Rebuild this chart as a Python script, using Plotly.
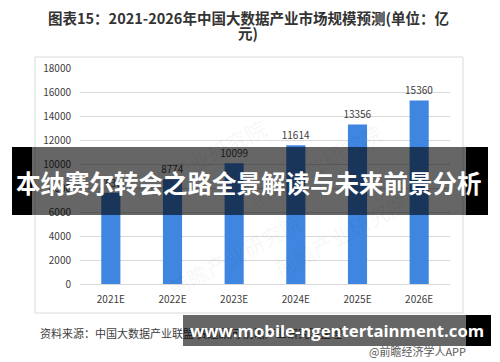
import plotly.graph_objects as go

# the page body has an 8px margin, so the figure is drawn 8px in from the window edge
OFF = 8
W, H = 500 - OFF, 362 - OFF
categories = ["2021E", "2022E", "2023E", "2024E", "2025E", "2026E"]
values = [7630, 8774, 10099, 11614, 13356, 15360]
y_ticks = [0, 2000, 4000, 6000, 8000, 10000, 12000, 14000, 16000, 18000]

title_line1 = "图表15：2021-2026年中国大数据产业市场规模预测(单位：亿"
title_line2 = "元)"
banner_text = "本纳赛尔转会之路全景解读与未来前景分析"
source_text = "资料来源：中国大数据产业联盟 赛迪顾问 前瞻产业研究院整理"
app_text = "@前瞻经济学人APP"
site_text = "www.mobile-ngentertainment.com"
watermark = "前瞻产业研究院"

def px(x):
    return (x - OFF) / W

def py(y):
    return 1 - (y - OFF) / H

FONT = "Noto Sans CJK SC, sans-serif"

fig = go.Figure()
fig.add_trace(go.Bar(
    x=categories, y=values,
    marker=dict(color="#3F86E0", line=dict(width=0)),
    text=[str(v) for v in values], textposition="outside",
    textfont=dict(size=10, color="#404040", family=FONT),
    constraintext="none",
    cliponaxis=False, width=0.31,
))

shapes = []
shapes.append(dict(type="rect", xref="paper", yref="paper",
                   x0=px(35), x1=px(463), y0=py(313), y1=py(57),
                   line=dict(color="#D9D9D9", width=1), fillcolor="rgba(0,0,0,0)", layer="below"))
shapes.append(dict(type="rect", xref="paper", yref="paper",
                   x0=px(32), x1=px(466), y0=py(215), y1=py(147),
                   line=dict(width=0), fillcolor="rgba(0,0,0,0.6)", layer="above"))
shapes.append(dict(type="rect", xref="paper", yref="paper",
                   x0=px(12), x1=px(32), y0=py(215), y1=py(147),
                   line=dict(width=0), fillcolor="#000000", layer="above"))
shapes.append(dict(type="rect", xref="paper", yref="paper",
                   x0=px(466), x1=px(488), y0=py(215), y1=py(147),
                   line=dict(width=0), fillcolor="#000000", layer="above"))

annotations = []
for (wx, wy) in [(125, 110), (390, 115), (160, 305), (415, 285)]:
    annotations.append(dict(text=watermark, x=px(wx), y=py(wy), xref="paper", yref="paper",
                            showarrow=False, textangle=-28,
                            font=dict(size=21, color="rgba(0,0,0,0.05)", family=FONT)))
annotations.append(dict(text="<b>" + title_line1 + "</b>", x=px(248), y=py(17), xref="paper", yref="paper",
                        xanchor="center", yanchor="middle", showarrow=False, borderpad=0,
                        font=dict(size=14.5, color="#333333", family=FONT)))
annotations.append(dict(text="<b>" + title_line2 + "</b>", x=px(248), y=py(33), xref="paper", yref="paper",
                        xanchor="center", yanchor="middle", showarrow=False, borderpad=0,
                        font=dict(size=14.5, color="#333333", family=FONT)))
annotations.append(dict(text=banner_text, x=px(249), y=py(183), xref="paper", yref="paper",
                        xanchor="center", yanchor="middle", showarrow=False,
                        font=dict(size=24.5, color="#FFFFFF", family=FONT, weight="bold")))
annotations.append(dict(text=source_text, x=px(38), y=py(333), xref="paper", yref="paper",
                        xanchor="left", yanchor="middle", showarrow=False,
                        font=dict(size=11, color="#404040", family=FONT)))
annotations.append(dict(text=app_text, x=px(468), y=py(351), xref="paper", yref="paper",
                        xanchor="right", yanchor="middle", showarrow=False,
                        font=dict(size=11, color="#595959", family=FONT)))
annotations.append(dict(text=" ", x=px(183), y=py(315), xref="paper", yref="paper",
                        xanchor="left", yanchor="top", showarrow=False,
                        width=466 - 183, height=31, borderpad=0, borderwidth=0,
                        bgcolor="rgba(0,0,0,0.6)", font=dict(size=10)))
annotations.append(dict(text=" ", x=px(466), y=py(315), xref="paper", yref="paper",
                        xanchor="left", yanchor="top", showarrow=False,
                        width=491 - 466, height=31, borderpad=0, borderwidth=0,
                        bgcolor="#000000", font=dict(size=10)))
annotations.append(dict(text=site_text, x=px(337), y=py(330), xref="paper", yref="paper",
                        xanchor="center", yanchor="middle", showarrow=False,
                        font=dict(size=16.7, color="#FFFFFF", family="Open Sans, sans-serif", weight="bold")))

fig.update_layout(
    width=W, height=H, margin=dict(l=0, r=0, t=0, b=0, autoexpand=False),
    paper_bgcolor="#FFFFFF", plot_bgcolor="#FFFFFF",
    showlegend=False, bargap=0.69,
    xaxis=dict(domain=[px(80), px(450)], showgrid=False, showline=True, automargin=False,
               linecolor="#D9D9D9", linewidth=1, ticks="", ticklabelstandoff=6,
               tickfont=dict(size=10, color="#404040", family=FONT), fixedrange=True),
    yaxis=dict(domain=[py(284), py(68.9)], range=[0, 18000], tickvals=y_ticks,
               ticktext=[str(t) for t in y_ticks], automargin=False,
               showgrid=True, gridcolor="#D9D9D9", gridwidth=1, zeroline=False,
               showline=False, ticks="", ticklabelstandoff=8,
               tickfont=dict(size=10, color="#404040", family=FONT), fixedrange=True),
    shapes=shapes, annotations=annotations,
)

fig.write_html("out.html")
